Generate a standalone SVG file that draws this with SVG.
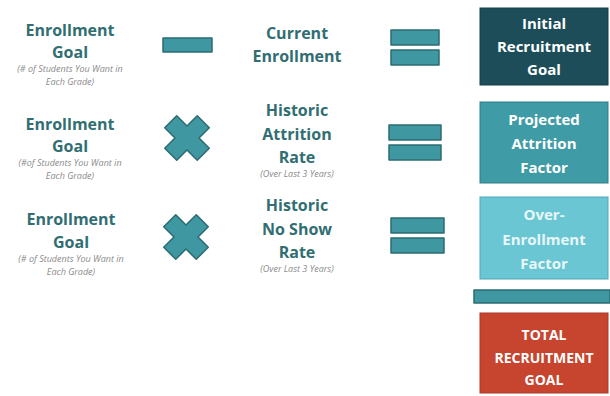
<svg xmlns="http://www.w3.org/2000/svg" width="610" height="396" viewBox="0 0 610 396">
<defs>
<style>
.t{font-family:"Open Sans","Liberation Sans",sans-serif;font-weight:bold;font-size:16px;fill:#316e72;text-anchor:middle}
.s{font-family:"Open Sans","Liberation Sans",sans-serif;font-style:italic;font-size:9px;fill:#8a8a8a;text-anchor:middle}
.b{font-family:"Open Sans","Liberation Sans",sans-serif;font-weight:bold;font-size:15px;fill:#ffffff;text-anchor:middle}
.op{fill:#3f97a1;stroke:#2b6c72;stroke-width:1.5;stroke-linejoin:round}
</style>
<path id="xm" d="M8.5,8.5 L23,8.5 L23,-8.5 L8.5,-8.5 L8.5,-23 L-8.5,-23 L-8.5,-8.5 L-23,-8.5 L-23,8.5 L-8.5,8.5 L-8.5,23 L8.5,23 Z"/>
</defs>
<rect width="610" height="396" fill="#ffffff"/>
<g id="row1-goal">
<text class="t" x="70" y="36">Enrollment</text>
<text class="t" x="70" y="58">Goal</text>
<text class="s" x="70" y="72">(# of Students You Want in</text>
<text class="s" x="70" y="85">Each Grade)</text>
</g>
<g id="row2-goal">
<text class="t" x="70" y="130">Enrollment</text>
<text class="t" x="70" y="152">Goal</text>
<text class="s" x="70" y="166">(#of Students You Want in</text>
<text class="s" x="70" y="179">Each Grade)</text>
</g>
<g id="row3-goal">
<text class="t" x="71" y="225">Enrollment</text>
<text class="t" x="71" y="248">Goal</text>
<text class="s" x="71" y="262">(# of Students You Want in</text>
<text class="s" x="71" y="275">Each Grade)</text>
</g>
<g id="current-enrollment">
<text class="t" x="297" y="39">Current</text>
<text class="t" x="297" y="62">Enrollment</text>
</g>
<g id="attrition-rate">
<text class="t" x="297" y="116">Historic</text>
<text class="t" x="297" y="140">Attrition</text>
<text class="t" x="297" y="163">Rate</text>
<text class="s" x="297" y="177">(Over Last 3 Years)</text>
</g>
<g id="noshow-rate">
<text class="t" x="297" y="211">Historic</text>
<text class="t" x="297" y="235">No Show</text>
<text class="t" x="297" y="258">Rate</text>
<text class="s" x="297" y="272">(Over Last 3 Years)</text>
</g>
<g id="operators">
<rect class="op" x="163" y="38" width="49" height="14"/>
<use href="#xm" class="op" transform="translate(187,138) rotate(45)"/>
<use href="#xm" class="op" transform="translate(186,237) rotate(45)"/>
<rect class="op" x="391" y="30" width="48" height="15"/>
<rect class="op" x="391" y="50" width="48" height="15"/>
<rect class="op" x="389" y="125" width="52" height="15"/>
<rect class="op" x="389" y="145" width="52" height="15"/>
<rect class="op" x="391" y="218" width="53" height="15"/>
<rect class="op" x="391" y="238" width="53" height="15"/>
<rect class="op" x="474" y="290" width="136" height="13"/>
</g>
<g id="initial-recruitment-goal">
<rect x="480" y="8" width="128" height="77" fill="#1c4d59" stroke="#173f49"/>
<text class="b" x="544" y="29">Initial</text>
<text class="b" x="544" y="52">Recruitment</text>
<text class="b" x="544" y="75">Goal</text>
</g>
<g id="projected-attrition-factor">
<rect x="480" y="102" width="128" height="81" fill="#3f9ba5" stroke="#2f7f88"/>
<text class="b" x="544" y="125">Projected</text>
<text class="b" x="544" y="149">Attrition</text>
<text class="b" x="544" y="173">Factor</text>
</g>
<g id="over-enrollment-factor">
<rect x="480" y="197" width="128" height="82" fill="#6ac6d3" stroke="#4fa9b5"/>
<text class="b" x="544" y="220" style="fill:#e8f7f9">Over-</text>
<text class="b" x="544" y="245" style="fill:#e8f7f9">Enrollment</text>
<text class="b" x="544" y="269" style="fill:#e8f7f9">Factor</text>
</g>
<g id="total-recruitment-goal">
<rect x="480" y="313" width="128" height="80" fill="#c7452f" stroke="#a8382a"/>
<text class="b" x="544" y="340" style="font-size:14px">TOTAL</text>
<text class="b" x="544" y="363" style="font-size:14px">RECRUITMENT</text>
<text class="b" x="544" y="385" style="font-size:14px">GOAL</text>
</g>
</svg>
